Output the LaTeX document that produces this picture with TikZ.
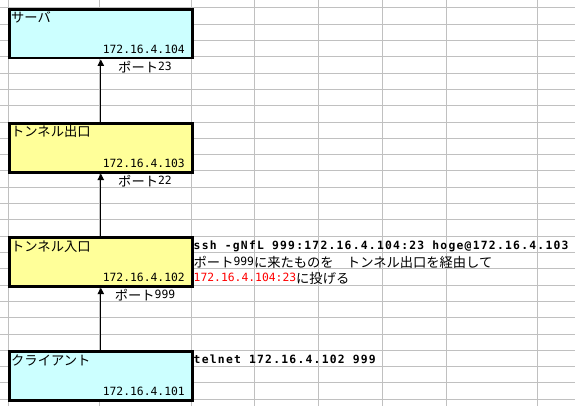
\documentclass[tikz,border=0pt]{standalone}
\usepackage{fontspec}
\setmainfont{DejaVu Sans Mono}
\newfontfamily\jpfont{Noto Sans CJK JP}[Scale=1.17]
\newfontfamily\cmdfont{DejaVu Sans Mono}[LetterSpace=11]
\newcommand\jp[1]{\raisebox{-1.5pt}{\jpfont #1}}
\usetikzlibrary{arrows.meta}
\definecolor{hostcyan}{HTML}{CCFFFF}
\definecolor{tunnelyellow}{HTML}{FFFF99}
\definecolor{cellgray}{HTML}{C0C0C0}
\tikzset{
  cell/.style={draw=cellgray, line width=1pt},
  host/.style={draw=black, line width=2.6pt, anchor=north west, minimum width=183pt, minimum height=48.9pt, inner sep=0pt},
  txt/.style={inner sep=0pt, font=\fontsize{11.35}{13}\selectfont},
  cmd/.style={txt, anchor=base west, font=\fontsize{11.35}{13}\selectfont\cmdfont\bfseries},
  hop/.style={-{Triangle[width=6.5pt,length=6.5pt]}, line width=1pt}
}

\begin{document}
\begin{tikzpicture}[x=1pt, y=-1pt]
\useasboundingbox (0,0) rectangle (575,406);
\fill[white] (0,0) rectangle (575,406);
\foreach \k in {0,...,24} \draw[cell] (0,{8+\k*16.3}) -- (575,{8+\k*16.3});
\foreach \x in {8,99,191,254.5,318.5,382.5,446.3,537.3} \draw[cell] (\x,0) -- (\x,406);

\node[host, fill=hostcyan] (srv) at (8,8) {};
\node[host, fill=tunnelyellow] (exit) at (8,122.1) {};
\node[host, fill=tunnelyellow] (entry) at (8,236.2) {};
\node[host, fill=hostcyan] (client) at (8,350.3) {};

\node[txt, anchor=base west] (srvname) at (11,21.3) {\jp{サーバ}};
\node[txt, anchor=base east] (srvip) at (185,53.6) {172.16.4.104};
\node[txt, anchor=base west] (exitname) at (11,135.4) {\jp{トンネル出口}};
\node[txt, anchor=base east] (exitip) at (185,167.7) {172.16.4.103};
\node[txt, anchor=base west] (entryname) at (11,249.5) {\jp{トンネル入口}};
\node[txt, anchor=base east] (entryip) at (185,281.8) {172.16.4.102};
\node[txt, anchor=base west] (clientname) at (11,363.6) {\jp{クライアント}};
\node[txt, anchor=base east] (clientip) at (185,395.9) {172.16.4.101};

\draw[hop] (exit.north) -- (srv.south);
\draw[hop] (entry.north) -- (exit.south);
\draw[hop] (client.north) -- (entry.south);

\node[txt, anchor=base] (port23) at (145,70.6) {\jp{ポート}23};
\node[txt, anchor=base] (port22) at (145,184.7) {\jp{ポート}22};
\node[txt, anchor=base] (port999) at (145,298.8) {\jp{ポート}999};

\node[cmd] (sshcmd) at (193.5,249.3) {ssh -gNfL 999:172.16.4.104:23 hoge@172.16.4.103};
\node[txt, anchor=base west] (fwdnote) at (193.5,265.6) {\jp{ポート}999\jp{に来たものを　トンネル出口を経由して}};
\node[txt, anchor=base west] (fwddest) at (193.5,281.9) {\textcolor{red}{172.16.4.104:23}\jp{に投げる}};
\node[cmd] (telnetcmd) at (193.5,363.4) {telnet 172.16.4.102 999};
\end{tikzpicture}
\end{document}
